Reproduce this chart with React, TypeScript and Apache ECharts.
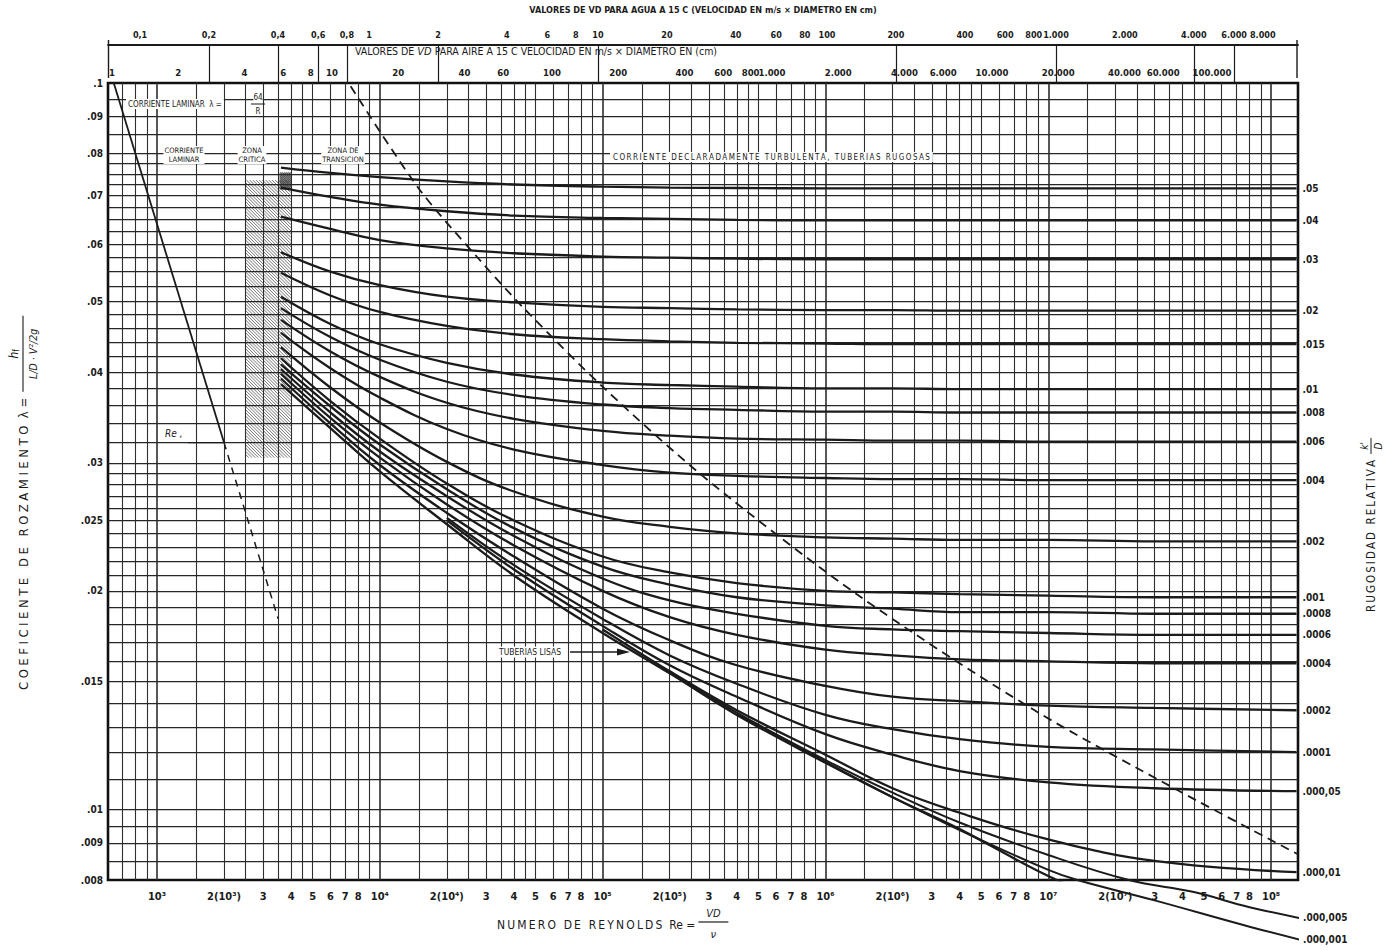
import React, { useEffect, useRef } from "react";
import * as echarts from "echarts";

const L = Math.log10;

// ---------- axis ranges ----------
const RE_MIN = 603;
const RE_MAX = 1.32e8;
const LAMBDA_MIN = 0.008;
const LAMBDA_MAX = 0.1;
const AIR_LOG_MIN = -0.018;
const AIR_LOG_MAX = 5.391;
const WATER_LOG_MIN = -1.14;
const WATER_LOG_MAX = 4.057;

// ---------- tick labels ----------
const RE_TICKS = [1e3, 2e3, 3e3, 4e3, 5e3, 6e3, 7e3, 8e3, 1e4, 2e4, 3e4, 4e4, 5e4, 6e4, 7e4, 8e4, 1e5, 2e5, 3e5, 4e5, 5e5, 6e5, 7e5, 8e5, 1e6, 2e6, 3e6, 4e6, 5e6, 6e6, 7e6, 8e6, 1e7, 2e7, 3e7, 4e7, 5e7, 6e7, 7e7, 8e7, 1e8];
const RE_TICK_LABELS = ["10³", "2(10³)", "3", "4", "5", "6", "7", "8", "10⁴", "2(10⁴)", "3", "4", "5", "6", "7", "8", "10⁵", "2(10⁵)", "3", "4", "5", "6", "7", "8", "10⁶", "2(10⁶)", "3", "4", "5", "6", "7", "8", "10⁷", "2(10⁷)", "3", "4", "5", "6", "7", "8", "10⁸"];

const LAMBDA_TICKS = [0.1, 0.09, 0.08, 0.07, 0.06, 0.05, 0.04, 0.03, 0.025, 0.02, 0.015, 0.01, 0.009, 0.008];
const LAMBDA_TICK_LABELS = [".1", ".09", ".08", ".07", ".06", ".05", ".04", ".03", ".025", ".02", ".015", ".01", ".009", ".008"];

const WATER_VD = [0.1, 0.2, 0.4, 0.6, 0.8, 1, 2, 4, 6, 8, 10, 20, 40, 60, 80, 100, 200, 400, 600, 800, 1000, 2000, 4000, 6000, 8000];
const WATER_LABELS = ["0,1", "0,2", "0,4", "0,6", "0,8", "1", "2", "4", "6", "8", "10", "20", "40", "60", "80", "100", "200", "400", "600", "800", "1.000", "2.000", "4.000", "6.000", "8.000"];
const WATER_SEPARATORS = [0.2, 0.4, 0.6, 0.8, 2, 10, 200, 1000, 4000, 6000];

const AIR_VD = [1, 2, 4, 6, 8, 10, 20, 40, 60, 100, 200, 400, 600, 800, 1000, 2000, 4000, 6000, 10000, 20000, 40000, 60000, 100000];
const AIR_LABELS = ["1", "2", "4", "6", "8", "10", "20", "40", "60", "100", "200", "400", "600", "800", "1.000", "2.000", "4.000", "6.000", "10.000", "20.000", "40.000", "60.000", "100.000"];

// ---------- grid lines ----------
const GRID_DECADES = [100, 1e3, 1e4, 1e5, 1e6, 1e7, 1e8];
const GRID_MULTIPLIERS = [1, 1.5, 2, 2.5, 3, 3.5, 4, 4.5, 5, 6, 7, 8, 9];
const GRID_LAMBDA = [0.095, 0.09, 0.085, 0.08, 0.0775, 0.075, 0.0725, 0.07, 0.0675, 0.065, 0.0625, 0.06, 0.0575, 0.055, 0.0525, 0.05, 0.048, 0.046, 0.044, 0.042, 0.04, 0.038, 0.036, 0.034, 0.032, 0.03, 0.029, 0.028, 0.027, 0.026, 0.025, 0.024, 0.023, 0.022, 0.021, 0.02, 0.019, 0.018, 0.017, 0.016, 0.015, 0.014, 0.013, 0.012, 0.011, 0.01, 0.0095, 0.009, 0.0085];

// ---------- curves (friction factor read at these Reynolds numbers) ----------
const RE_POINTS = [3600, 6000, 1e4, 2e4, 4e4, 1e5, 2e5, 4e5, 1e6, 2e6, 4e6, 1e7, 3e7, 1.3e8];
const F_05 = [0.0765, 0.0752, 0.0742, 0.0732, 0.0725, 0.072, 0.0718, 0.0717, 0.0716, 0.0716, 0.0716, 0.0716, 0.0716, 0.0716];
const F_04 = [0.0718, 0.0697, 0.068, 0.0666, 0.0657, 0.0652, 0.065, 0.0648, 0.0647, 0.0647, 0.0647, 0.0647, 0.0647, 0.0647];
const F_03 = [0.0655, 0.063, 0.0608, 0.0592, 0.0583, 0.0577, 0.0575, 0.0573, 0.0572, 0.0572, 0.0572, 0.0572, 0.0572, 0.0572];
const F_02 = [0.0585, 0.055, 0.0527, 0.0508, 0.0499, 0.0492, 0.049, 0.0488, 0.0487, 0.0487, 0.0486, 0.0486, 0.0486, 0.0486];
const F_015 = [0.0548, 0.051, 0.0484, 0.0463, 0.0451, 0.0444, 0.0441, 0.0439, 0.0438, 0.0437, 0.0437, 0.0437, 0.0437, 0.0437];
const F_01 = [0.0508, 0.0466, 0.0437, 0.0412, 0.0397, 0.0387, 0.0384, 0.0382, 0.038, 0.038, 0.0379, 0.0379, 0.0379, 0.0379];
const F_008 = [0.049, 0.0447, 0.0416, 0.0388, 0.0372, 0.0361, 0.0357, 0.0355, 0.0353, 0.0353, 0.0352, 0.0352, 0.0352, 0.0352];
const F_006 = [0.0472, 0.0427, 0.0394, 0.0363, 0.0345, 0.0332, 0.0327, 0.0324, 0.0323, 0.0322, 0.0322, 0.0321, 0.0321, 0.0321];
const F_004 = [0.0453, 0.0405, 0.0369, 0.0334, 0.0313, 0.0298, 0.0291, 0.0288, 0.0286, 0.0285, 0.0285, 0.0284, 0.0284, 0.0284];
const F_002 = [0.0433, 0.0381, 0.0341, 0.0301, 0.0274, 0.0253, 0.0245, 0.024, 0.0237, 0.0236, 0.0235, 0.0235, 0.0234, 0.0234];
const F_001 = [0.0418, 0.0365, 0.0324, 0.0281, 0.025, 0.0223, 0.0212, 0.0205, 0.02, 0.0199, 0.0198, 0.0197, 0.0196, 0.0196];
const F_0008 = [0.041, 0.0359, 0.0318, 0.0276, 0.0244, 0.0216, 0.0204, 0.0196, 0.0191, 0.0189, 0.0187, 0.0187, 0.0186, 0.0186];
const F_0006 = [0.0404, 0.0352, 0.0311, 0.027, 0.0238, 0.0208, 0.0194, 0.0186, 0.0179, 0.0177, 0.0176, 0.0175, 0.0174, 0.0174];
const F_0004 = [0.0398, 0.0346, 0.0305, 0.0263, 0.0231, 0.02, 0.0184, 0.0174, 0.0166, 0.0163, 0.0161, 0.016, 0.0159, 0.0159];
const F_0002 = [0.0392, 0.034, 0.0298, 0.0256, 0.0223, 0.0189, 0.0171, 0.0158, 0.0148, 0.0143, 0.0141, 0.0139, 0.0138, 0.0137];
const F_0001 = [null, null, null, 0.0252, 0.0217, 0.0183, 0.0163, 0.0149, 0.0135, 0.0129, 0.0125, 0.0122, 0.0121, 0.012];
const F_00005 = [null, null, null, 0.025, 0.0214, 0.0179, 0.0158, 0.0143, 0.0127, 0.0119, 0.0113, 0.0109, 0.0107, 0.0106];
const F_00001 = [null, null, null, null, null, 0.0177, 0.0155, 0.0137, 0.0119, 0.0107, 0.0099, 0.0091, 0.0085, 0.0082];
const F_SMOOTH = [0.0385, 0.0335, 0.0292, 0.0247, 0.021, 0.0175, 0.0154, 0.0135, 0.0116, 0.0104, 0.0094, 0.0081, 0.007, null];

// the two smoothest rough curves leave the chart and carry a leader to their label
const RE_000005 = [2e5, 4e5, 1e6, 2e6, 4e6, 1e7, 2.3e7, 4.5e7, 8e7, 1.55e8];
const F_000005 = [0.0155, 0.0136, 0.0117, 0.01055, 0.0096, 0.00866, 0.008, 0.0077, 0.00734, 0.00703];
const RE_000001 = [4e5, 1e6, 2e6, 4e6, 1e7, 1.35e7, 3e7, 8e7, 1.55e8];
const F_000001 = [0.01355, 0.01163, 0.0104, 0.00937, 0.00826, 0.008, 0.0075, 0.0069, 0.00655];

// laminar flow and the zone boundaries
const LAMINAR_RE = [640, 2000];
const LAMINAR_F = [0.1, 0.032];
const LAMINAR_EXT_RE = [2000, 3500];
const LAMINAR_EXT_F = [0.032, 0.0183];
const RE_MARK_RE = [1380, 2000];
const RE_MARK_F = [0.032, 0.032];
const ROUSE_RE = [7400, 14950, 27900, 45400, 102700, 296600, 1.43e6, 8.5e6, 3.9e7, 1.32e8];
const ROUSE_F = [0.099, 0.0716, 0.0572, 0.0486, 0.0379, 0.0284, 0.01964, 0.01375, 0.01059, 0.00868];
const CRITICAL_RE = [2500, 4000];
const CRITICAL_F = [0.0735, 0.0305];
const CRITICAL_TOP_RE = [3550, 4000];
const CRITICAL_TOP_F = [0.0753, 0.0713];

const FONT = "'DejaVu Sans Condensed', 'Liberation Sans Narrow', 'DejaVu Sans', sans-serif";
const INK = "#1b1b1b";

function lookup(vals: number[], labels: string[]) {
  const m = new Map<string, string>();
  vals.forEach((v, i) => m.set(L(v).toFixed(4), labels[i]));
  return (v: number) => m.get(Number(v).toFixed(4)) ?? "";
}

function pts(res: number[], fs: (number | null)[]) {
  const out: number[][] = [];
  res.forEach((r, i) => {
    const f = fs[i];
    if (f != null) out.push([L(r), L(f)]);
  });
  return out;
}

// letter-spaced caption, like the widely spaced lettering of the original
function spaced(s: string, gap = "\u2009") {
  return s.split("").join(gap);
}

function measure(text: string, size: number, style = "normal", weight = "normal") {
  const c = document.createElement("canvas").getContext("2d");
  if (!c) return text.length * size * 0.55;
  c.font = `${style} ${weight} ${size}px ${FONT}`;
  return c.measureText(text).width;
}

function buildOption() {
  const xMin = L(RE_MIN), xMax = L(RE_MAX);
  const yMin = L(LAMBDA_MIN), yMax = L(LAMBDA_MAX);

  const gridLines: any[] = [];
  GRID_DECADES.forEach((d) => {
    GRID_MULTIPLIERS.forEach((m) => {
      const x = L(d * m);
      if (x <= xMin + 0.002 || x >= xMax - 0.002) return;
      gridLines.push([
        { coord: [x, yMin], lineStyle: { color: "#2e2e2e", width: m === 1 ? 1.6 : 1.1, type: "solid" } },
        { coord: [x, yMax] },
      ]);
    });
  });
  GRID_LAMBDA.forEach((f) => {
    const y = L(f);
    gridLines.push([
      { coord: [xMin, y], lineStyle: { color: "#262626", width: 1.25, type: "solid" } },
      { coord: [xMax, y] },
    ]);
  });

  const curves = [
    { label: ".05", data: F_05 },
    { label: ".04", data: F_04 },
    { label: ".03", data: F_03 },
    { label: ".02", data: F_02 },
    { label: ".015", data: F_015 },
    { label: ".01", data: F_01 },
    { label: ".008", data: F_008 },
    { label: ".006", data: F_006 },
    { label: ".004", data: F_004 },
    { label: ".002", data: F_002 },
    { label: ".001", data: F_001 },
    { label: ".0008", data: F_0008 },
    { label: ".0006", data: F_0006 },
    { label: ".0004", data: F_0004 },
    { label: ".0002", data: F_0002 },
    { label: ".0001", data: F_0001 },
    { label: ".000,05", data: F_00005 },
    { label: ".000,01", data: F_00001 },
  ];

  const labelStyle = { fontSize: 10, color: INK, fontFamily: FONT, fontWeight: "bold" as const };
  const tickStyle = { color: INK, fontFamily: FONT, fontWeight: "bold" as const };

  const curveSeries = curves.map((c) => ({
    type: "line",
    name: c.label,
    data: pts(RE_POINTS, c.data),
    smooth: 0.4,
    showSymbol: false,
    silent: true,
    lineStyle: { color: INK, width: 2.3 },
    z: 5,
    endLabel: { show: true, formatter: () => c.label, distance: 6, ...labelStyle },
  }));

  const simpleLine = (res: number[], fs: number[], extra: any = {}) => ({
    type: "line",
    data: pts(res, fs),
    showSymbol: false,
    silent: true,
    z: 5,
    lineStyle: { color: INK, width: 2 },
    ...extra,
  });

  const hatch = {
    type: "custom",
    silent: true,
    z: 4,
    encode: { x: [0, 2], y: [1, 3] },
    data: [
      [L(CRITICAL_RE[0]), L(CRITICAL_F[0]), L(CRITICAL_RE[1]), L(CRITICAL_F[1]), 0],
      [L(CRITICAL_TOP_RE[0]), L(CRITICAL_TOP_F[0]), L(CRITICAL_TOP_RE[1]), L(CRITICAL_TOP_F[1]), 1],
    ],
    renderItem: (params: any, api: any) => {
      const a = api.coord([api.value(0), api.value(1)]);
      const b = api.coord([api.value(2), api.value(3)]);
      const kind = api.value(4);
      const x0 = a[0], y0 = a[1], x1 = b[0], y1 = b[1];
      const h = y1 - y0;
      const children: any[] = [
        { type: "rect", shape: { x: x0, y: y0, width: x1 - x0, height: h }, style: { fill: kind === 1 ? "rgba(40,40,40,0.55)" : "rgba(255,255,255,0.65)" } },
      ];
      const step = kind === 1 ? 2 : 3.2;
      for (let c = x0 - h; c < x1; c += step) {
        let ax = c, ay = y0, bx = c + h, by = y1;
        if (ax < x0) { ay = y0 + (x0 - ax); ax = x0; }
        if (bx > x1) { by = y1 - (bx - x1); bx = x1; }
        if (ay >= by) continue;
        children.push({ type: "line", shape: { x1: ax, y1: ay, x2: bx, y2: by }, style: { stroke: "#3a3a3a", lineWidth: 0.7 } });
      }
      return { type: "group", children };
    },
  };

  const gridSeries = {
    type: "line",
    data: [],
    silent: true,
    z: 2,
    markLine: { silent: true, symbol: ["none", "none"], label: { show: false }, animation: false, data: gridLines },
  };

  const txt = (text: string, x: number, y: number, size: number, extra: any = {}) => ({
    type: "text",
    x,
    y,
    z: 50,
    silent: true,
    style: { text, fontSize: size, fontFamily: FONT, fill: INK, verticalAlign: "middle", ...extra },
  });

  // captions with measured widths
  const leftTitle = spaced("COEFICIENTE DE ROZAMIENTO", "\u2009\u200A") + "  λ =";
  const leftW = measure(leftTitle, 13);
  const bottomTitle = spaced("NUMERO DE REYNOLDS") + "  Re =";
  const bottomW = measure(bottomTitle, 12);
  const rightTitle = spaced("RUGOSIDAD RELATIVA");
  const rightW = measure(rightTitle, 11.5);
  const turbTitle = spaced("CORRIENTE DECLARADAMENTE TURBULENTA, TUBERIAS RUGOSAS");

  const fx = leftW + 44;
  const bx = 497 + bottomW + 18;
  const rx = rightW + 14;

  const graphic: any[] = [
    // top box sides
    { type: "line", z: 40, silent: true, shape: { x1: 108.5, y1: 40, x2: 108.5, y2: 78 }, style: { stroke: INK, lineWidth: 1.4 } },
    { type: "line", z: 40, silent: true, shape: { x1: 1297, y1: 40, x2: 1297, y2: 78 }, style: { stroke: INK, lineWidth: 1.4 } },
    // air title inside the top box
    txt("VALORES DE {i|VD} PARA AIRE A 15 C VELOCIDAD EN m/s × DIAMETRO EN (cm)", 355, 51, 10.5, {
      rich: { i: { fontStyle: "italic", fontSize: 11, fontFamily: FONT, fill: INK } },
    }),
    // laminar label
    txt("CORRIENTE LAMINAR  λ =", 126, 104, 8, { backgroundColor: "#fff", padding: [1, 2] }),
    txt("64", 258, 97, 8, { align: "center", backgroundColor: "#fff" }),
    txt("R", 258, 111, 8, { align: "center", backgroundColor: "#fff" }),
    { type: "line", z: 51, silent: true, shape: { x1: 251, y1: 104, x2: 265, y2: 104 }, style: { stroke: INK, lineWidth: 1 } },
    // zones
    txt("CORRIENTE\nLAMINAR", 184, 155, 7.5, { align: "center", lineHeight: 9, backgroundColor: "#fff", padding: [0, 1] }),
    txt("ZONA\nCRITICA", 252, 155, 7.5, { align: "center", lineHeight: 9, backgroundColor: "#fff", padding: [0, 1] }),
    txt("ZONA DE\nTRANSICION", 343, 155, 7.5, { align: "center", lineHeight: 9, backgroundColor: "#fff", padding: [0, 1] }),
    txt(turbTitle, 610, 157, 8, { backgroundColor: "#fff", padding: [1, 3] }),
    // smooth pipes
    txt("TUBERIAS LISAS", 497, 652, 8.5, { backgroundColor: "#fff", padding: [1, 2] }),
    { type: "line", z: 51, silent: true, shape: { x1: 570, y1: 652, x2: 622, y2: 652 }, style: { stroke: INK, lineWidth: 1.6 } },
    { type: "polygon", z: 51, silent: true, shape: { points: [[617, 648.5], [630, 652], [617, 655.5]] }, style: { fill: INK } },
    // Re critical mark
    txt("Re ,", 165, 433, 10, { fontStyle: "italic" }),
    // left title (rotated)
    {
      type: "group",
      x: 23,
      y: 690,
      rotation: Math.PI / 2,
      silent: true,
      children: [
        { type: "text", x: 0, y: 0, style: { text: leftTitle, fontSize: 13, fontFamily: FONT, fill: INK, verticalAlign: "middle" } },
        { type: "text", x: fx, y: -9, style: { text: "h{s|f}", fontSize: 12, fontFamily: FONT, fontStyle: "italic", fill: INK, align: "center", verticalAlign: "middle", rich: { s: { fontSize: 8, fontFamily: FONT, verticalAlign: "bottom", fill: INK } } } },
        { type: "line", shape: { x1: fx - 38, y1: 0, x2: fx + 38, y2: 0 }, style: { stroke: INK, lineWidth: 1.1 } },
        { type: "text", x: fx, y: 10, style: { text: "L/D · V²/2g", fontSize: 10.5, fontFamily: FONT, fontStyle: "italic", fill: INK, align: "center", verticalAlign: "middle" } },
      ],
    },
    // right title (rotated)
    {
      type: "group",
      x: 1371,
      y: 612,
      rotation: Math.PI / 2,
      silent: true,
      children: [
        { type: "text", x: 0, y: 0, style: { text: rightTitle, fontSize: 11.5, fontFamily: FONT, fill: INK, verticalAlign: "middle" } },
        { type: "text", x: rx, y: -7, style: { text: "k'", fontSize: 10, fontFamily: FONT, fontStyle: "italic", fill: INK, align: "center", verticalAlign: "middle" } },
        { type: "line", shape: { x1: rx - 8, y1: 0, x2: rx + 8, y2: 0 }, style: { stroke: INK, lineWidth: 1 } },
        { type: "text", x: rx, y: 7, style: { text: "D", fontSize: 10, fontFamily: FONT, fontStyle: "italic", fill: INK, align: "center", verticalAlign: "middle" } },
      ],
    },
    // bottom title
    txt(bottomTitle, 497, 925, 12),
    txt("VD", bx, 913, 11, { align: "center", fontStyle: "italic" }),
    { type: "line", z: 51, silent: true, shape: { x1: bx - 15, y1: 922, x2: bx + 15, y2: 922 }, style: { stroke: INK, lineWidth: 1.2 } },
    txt("ν", bx, 934, 11, { align: "center", fontStyle: "italic" }),
  ];

  return {
    animation: false,
    backgroundColor: "#ffffff",
    grid: { left: 108, top: 78, width: 1190, height: 802, show: true, borderColor: "#111", borderWidth: 2.6, backgroundColor: "transparent", containLabel: false },
    xAxis: [
      {
        type: "value", min: xMin, max: xMax, position: "bottom",
        axisLine: { show: false }, axisTick: { show: false }, splitLine: { show: false },
        axisLabel: { customValues: RE_TICKS.map(L), formatter: lookup(RE_TICKS, RE_TICK_LABELS), margin: 11, fontSize: 11, ...tickStyle },
      },
      {
        type: "value", min: AIR_LOG_MIN, max: AIR_LOG_MAX, position: "top", offset: 0,
        axisLine: { show: false }, axisTick: { show: false }, splitLine: { show: false },
        axisLabel: { customValues: AIR_VD.map(L), formatter: lookup(AIR_VD, AIR_LABELS), margin: 6, fontSize: 9.5, ...tickStyle },
      },
      {
        type: "value", min: WATER_LOG_MIN, max: WATER_LOG_MAX, position: "top", offset: 38,
        axisLine: { show: true, lineStyle: { color: INK, width: 1.8 } },
        axisTick: { show: true, inside: true, length: 38, customValues: WATER_SEPARATORS.map(L), lineStyle: { color: INK, width: 1.2 } },
        splitLine: { show: false },
        axisLabel: { customValues: WATER_VD.map(L), formatter: lookup(WATER_VD, WATER_LABELS), margin: 6, fontSize: 9, ...tickStyle },
        name: "VALORES DE VD PARA AGUA A 15 C (VELOCIDAD EN m/s × DIAMETRO EN cm)",
        nameLocation: "middle",
        nameGap: 31,
        nameTextStyle: { fontSize: 9, color: INK, fontFamily: FONT, fontWeight: "bold" },
      },
    ],
    yAxis: [
      {
        type: "value", min: yMin, max: yMax,
        axisLine: { show: false }, axisTick: { show: false }, splitLine: { show: false },
        axisLabel: { customValues: LAMBDA_TICKS.map(L), formatter: lookup(LAMBDA_TICKS, LAMBDA_TICK_LABELS), margin: 5, fontSize: 10, ...tickStyle },
      },
    ],
    graphic,
    series: [
      gridSeries,
      hatch,
      ...curveSeries,
      simpleLine(RE_POINTS, F_SMOOTH as number[], { smooth: 0.4, lineStyle: { color: INK, width: 2.3 } }),
      simpleLine(RE_000005, F_000005, { smooth: 0.4, clip: false, lineStyle: { color: INK, width: 2 }, endLabel: { show: true, formatter: () => ".000,005", distance: 4, ...labelStyle } }),
      simpleLine(RE_000001, F_000001, { smooth: 0.4, clip: false, lineStyle: { color: INK, width: 2 }, endLabel: { show: true, formatter: () => ".000,001", distance: 4, ...labelStyle } }),
      simpleLine(LAMINAR_RE, LAMINAR_F, { lineStyle: { color: INK, width: 1.8 } }),
      simpleLine(LAMINAR_EXT_RE, LAMINAR_EXT_F, { lineStyle: { color: INK, width: 1.5, type: [7, 6] } }),
      simpleLine(RE_MARK_RE, RE_MARK_F, { lineStyle: { color: INK, width: 1.2 } }),
      simpleLine(ROUSE_RE, ROUSE_F, { smooth: 0.3, lineStyle: { color: INK, width: 1.8, type: [9, 6] } }),
    ],
  };
}

export default function App() {
  const ref = useRef<HTMLDivElement>(null);
  useEffect(() => {
    const chart = echarts.init(ref.current!, null, { renderer: "svg" });
    chart.setOption(buildOption() as any);
    return () => chart.dispose();
  }, []);
  return (
    <div
      ref={ref}
      style={{ position: "absolute", left: 0, top: 0, width: 1387, height: 950, background: "#fff" }}
    />
  );
}
